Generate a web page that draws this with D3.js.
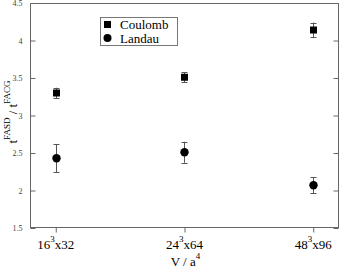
<!DOCTYPE html>
<html>
<head>
<meta charset="utf-8">
<script src="https://cdn.jsdelivr.net/npm/d3@7"></script>
</head>
<body style="margin:0; background:#fff">
<div style="font-family:'Times New Roman'; position:absolute; left:0; top:0; font-size:13px; color:transparent">&nbsp;</div>
<svg id="chart" width="340" height="268" style="display:block; font-family:'Times New Roman', serif"></svg>
<script>
// lattice volumes
const lattices = [
  { base: "16", exp: "3", tail: "x32" },
  { base: "24", exp: "3", tail: "x64" },
  { base: "48", exp: "3", tail: "x96" }
];
const coulombVals = [3.30, 3.51, 4.14];
const coulombErr = [0.07, 0.065, 0.10];
const landauVals = [2.43, 2.51, 2.07];
const landauErr = [0.185, 0.14, 0.105];
const yTicks = [1.5, 2, 2.5, 3, 3.5, 4, 4.5];

const width = 340, height = 268,
  margin = { top: 3, right: 1, bottom: 40, left: 30 };
const serif = "Times New Roman";

const svg = d3.select("#chart");

const x = d3.scaleLinear().domain([0.8, 3.2])
  .range([margin.left, width - margin.right]);
const y = d3.scaleLinear().domain([1.5, 4.5])
  .range([height - margin.bottom, margin.top]);

const frameColor = "#666";

// frame
svg.append("rect")
  .attr("x", margin.left + 0.5)
  .attr("y", margin.top + 0.5)
  .attr("width", width - margin.left - margin.right - 1)
  .attr("height", height - margin.top - margin.bottom - 1)
  .attr("fill", "none")
  .attr("stroke", frameColor);

// y axis, ticks inward on both sides
const yLeft = svg.append("g")
  .attr("transform", `translate(${margin.left + 0.5},0)`)
  .call(d3.axisLeft(y).tickValues(yTicks).tickSize(-5).tickPadding(8).tickFormat(d3.format("")));
yLeft.select(".domain").remove();
yLeft.selectAll("line").attr("stroke", frameColor);
yLeft.selectAll("text").attr("font-size", 8).attr("fill", "#444");

const yRight = svg.append("g")
  .attr("transform", `translate(${width - margin.right - 0.5},0)`)
  .call(d3.axisRight(y).tickValues(yTicks).tickSize(-5).tickFormat(""));
yRight.select(".domain").remove();
yRight.selectAll("line").attr("stroke", frameColor);

// x axis, ticks outward
const xAxis = svg.append("g")
  .attr("transform", `translate(0,${height - margin.bottom - 0.5})`)
  .call(d3.axisBottom(x).tickValues([1, 2, 3]).tickSize(5).tickFormat(""));
xAxis.select(".domain").remove();
xAxis.selectAll("line").attr("stroke", frameColor);

const xLab = svg.append("g").selectAll("text")
  .data(lattices)
  .join("text")
  .attr("x", (d, i) => x(i + 1))
  .attr("y", 249)
  .attr("text-anchor", "middle")
  .attr("font-size", 13)
  .attr("fill", "#000");
xLab.append("tspan").text(d => d.base);
xLab.append("tspan").attr("dy", -7).attr("font-size", 9).text(d => d.exp);
xLab.append("tspan").attr("dy", 7).text(d => d.tail);

// axis titles
const xt = svg.append("text")
  .attr("x", (margin.left + width - margin.right) / 2 + 1)
  .attr("y", 266)
  .attr("text-anchor", "middle")
  .attr("font-size", 13);
xt.append("tspan").text("V / a");
xt.append("tspan").attr("dy", -7).attr("font-size", 9).text("4");

const yt = svg.append("text")
  .attr("transform", "translate(17,112) rotate(-90)")
  .attr("text-anchor", "middle")
  .attr("font-size", 13);
yt.append("tspan").text("t");
yt.append("tspan").attr("dy", -7).attr("font-size", 9).text("FASD");
yt.append("tspan").attr("dy", 7).text(" / t");
yt.append("tspan").attr("dy", -7).attr("font-size", 9).text("FACG");

// error bars
function errorBars(vals, errs) {
  const g = svg.append("g").attr("stroke", "#555").attr("stroke-width", 1);
  vals.forEach((v, i) => {
    const cx = Math.round(x(i + 1)) + 0.5;
    g.append("line").attr("x1", cx).attr("x2", cx)
      .attr("y1", y(v - errs[i])).attr("y2", y(v + errs[i]));
    [v - errs[i], v + errs[i]].forEach(e => {
      g.append("line").attr("x1", cx - 3).attr("x2", cx + 3)
        .attr("y1", Math.round(y(e)) + 0.5).attr("y2", Math.round(y(e)) + 0.5);
    });
  });
}
errorBars(coulombVals, coulombErr);
errorBars(landauVals, landauErr);

// markers
svg.append("g").selectAll("rect")
  .data(coulombVals)
  .join("rect")
  .attr("x", (d, i) => Math.round(x(i + 1)) - 3)
  .attr("y", d => y(d) - 3.5)
  .attr("width", 7)
  .attr("height", 7)
  .attr("fill", "#000");

svg.append("g").selectAll("circle")
  .data(landauVals)
  .join("circle")
  .attr("cx", (d, i) => Math.round(x(i + 1)) + 0.5)
  .attr("cy", d => y(d))
  .attr("r", 4.2)
  .attr("fill", "#000");

// legend
const legend = svg.append("g");
legend.append("rect")
  .attr("x", 100.5).attr("y", 17.5)
  .attr("width", 77).attr("height", 28)
  .attr("fill", "#fff").attr("stroke", "#777");
legend.append("rect").attr("x", 104).attr("y", 21).attr("width", 7).attr("height", 7).attr("fill", "#000");
legend.append("circle").attr("cx", 107.5).attr("cy", 38).attr("r", 4).attr("fill", "#000");
legend.append("text").attr("x", 120).attr("y", 29).attr("font-size", 13).text("Coulomb");
legend.append("text").attr("x", 120).attr("y", 42.5).attr("font-size", 13).text("Landau");

// serif face on every text and tspan
svg.selectAll("g").attr("font-family", serif);
svg.selectAll("text, tspan").attr("font-family", serif);
</script>
</body>
</html>
